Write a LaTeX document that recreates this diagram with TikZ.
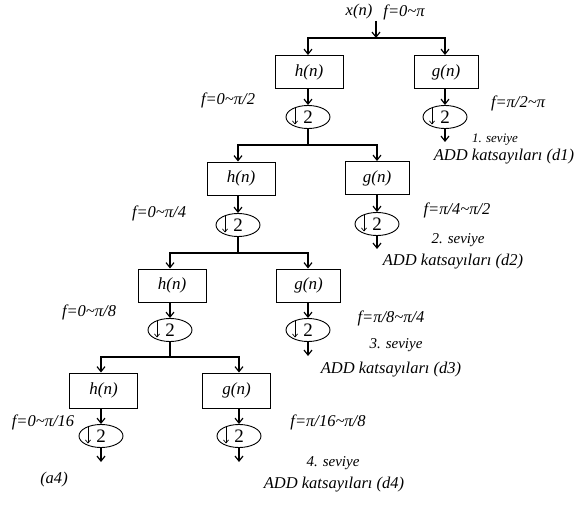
\documentclass[tikz,border=0pt]{standalone}
\usepackage{fontspec}
\setmainfont{Liberation Serif}
\newfontfamily\tnr{Liberation Serif}
\usetikzlibrary{shapes.geometric,arrows.meta}
\newcommand{\tld}{\textasciitilde}
\begin{document}
\begin{tikzpicture}[x=1pt,y=-1pt,
  line width=1.1pt,
  arr/.style={-{Straight Barb[length=5pt,width=8pt,line width=1.2pt]}},
  filt/.style={draw,line width=0.9pt,minimum width=68pt,minimum height=33pt,inner sep=0pt,font=\tnr\fontsize{17}{17}\selectfont\itshape},
  dec/.style={draw,ellipse,line width=0.9pt,minimum width=44pt,minimum height=23pt,inner sep=0pt,
    font=\tnr\fontsize{19}{19}\selectfont,
    path picture={\draw[line width=0.7pt,-{Straight Barb[length=3pt,width=5pt,line width=0.7pt]}]
      ([xshift=9pt,yshift=-2.5pt]path picture bounding box.north west) --
      ([xshift=9pt,yshift=4pt]path picture bounding box.south west);}},
  lbl/.style={inner sep=0pt,font=\tnr\fontsize{16.5}{16.5}\selectfont\itshape},
  lvl/.style={inner sep=0pt,font=\tnr\fontsize{15}{15}\selectfont\itshape},
  lvls/.style={inner sep=0pt,font=\tnr\fontsize{13}{13}\selectfont\itshape}]
\useasboundingbox[fill=white] (0,0) rectangle (578,505);

% input
\node[lbl] (xn) at (359,12) {x(n)};
\node[lbl] (f0) at (404,12) {f=0\tld π};
\coordinate (in) at (376,21);
\coordinate (j1) at (376,38);
\draw[arr] (in) -- (j1);

% level 1
\node[filt] (h1) at (309,72) {h(n)};
\node[filt,minimum width=64pt] (g1) at (446,72) {g(n)};
\node[dec] (h1e) at (308,117) {2\hspace{5pt}};
\node[dec] (g1e) at (445,117) {2\hspace{5pt}};
\coordinate (g1o) at (445,142);
\draw[arr] (j1) -| (h1.north -| h1e.north);
\draw[arr] (j1) -| (g1.north -| g1e.north);
\draw[arr] (h1.south -| h1e.north) -- (h1e.north);
\draw[arr] (g1.south -| g1e.north) -- (g1e.north);
\draw[arr] (g1e.south) -- (g1o);

% level 2
\coordinate (j2) at (308,145);
\node[filt] (h2) at (241,178.5) {h(n)};
\node[filt,minimum width=64pt] (g2) at (377,178) {g(n)};
\node[dec] (h2e) at (238,225) {2\hspace{5pt}};
\node[dec] (g2e) at (377,224) {2\hspace{5pt}};
\coordinate (g2o) at (377,249);
\draw (h1e.south) -- (j2);
\draw[arr] (j2) -| (h2.north -| h2e.north);
\draw[arr] (j2) -| (g2.north -| g2e.north);
\draw[arr] (h2.south -| h2e.north) -- (h2e.north);
\draw[arr] (g2.south -| g2e.north) -- (g2e.north);
\draw[arr] (g2e.south) -- (g2o);

% level 3
\coordinate (j3) at (238,253);
\node[filt] (h3) at (172,285.5) {h(n)};
\node[filt,minimum width=64pt] (g3) at (308.5,285.5) {g(n)};
\node[dec] (h3e) at (170,330) {2\hspace{5pt}};
\node[dec] (g3e) at (308,330) {2\hspace{5pt}};
\coordinate (g3o) at (308,356);
\draw (h2e.south) -- (j3);
\draw[arr] (j3) -| (h3.north -| h3e.north);
\draw[arr] (j3) -| (g3.north -| g3e.north);
\draw[arr] (h3.south -| h3e.north) -- (h3e.north);
\draw[arr] (g3.south -| g3e.north) -- (g3e.north);
\draw[arr] (g3e.south) -- (g3o);

% level 4
\coordinate (j4) at (170,357);
\node[filt,minimum height=35pt] (h4) at (103.5,390.5) {h(n)};
\node[filt,minimum height=35pt] (g4) at (236.5,390.5) {g(n)};
\node[dec] (h4e) at (101,436) {2\hspace{5pt}};
\node[dec] (g4e) at (239,436) {2\hspace{5pt}};
\coordinate (h4o) at (101,462);
\coordinate (g4o) at (239,462);
\draw (h3e.south) -- (j4);
\draw[arr] (j4) -| (h4.north -| h4e.north);
\draw[arr] (j4) -| (g4.north -| g4e.north);
\draw[arr] (h4.south -| h4e.north) -- (h4e.north);
\draw[arr] (g4.south -| g4e.north) -- (g4e.north);
\draw[arr] (h4e.south) -- (h4o);
\draw[arr] (g4e.south) -- (g4o);

% labels
\node[lbl] (l1) at (228,100) {f=0\tld π/2};
\node[lbl] (r1) at (518,103) {f=π/2\tld π};
\node[lvls] (s1) at (495,140) {1. seviye};
\node[lbl] (d1) at (504,157) {ADD katsayıları (d1)};

\node[lbl] (l2) at (159,213) {f=0\tld π/4};
\node[lbl] (r2) at (457,210) {f=π/4\tld π/2};
\node[lvl] (s2) at (458,240) {2. seviye};
\node[lbl] (d2) at (453,262) {ADD katsayıları (d2)};

\node[lbl] (l3) at (89,312) {f=0\tld π/8};
\node[lbl] (r3) at (391,318) {f=π/8\tld π/4};
\node[lvl] (s3) at (396,345) {3. seviye};
\node[lbl] (d3) at (391,370) {ADD katsayıları (d3)};

\node[lbl] (l4) at (43,422) {f=0\tld π/16};
\node[lbl] (r4) at (328,422) {f=π/16\tld π/8};
\node[lvl] (s4) at (333,463) {4. seviye};
\node[lbl] (d4) at (334,485) {ADD katsayıları (d4)};
\node[lbl] (a4) at (54,480) {(a4)};
\end{tikzpicture}
\end{document}
